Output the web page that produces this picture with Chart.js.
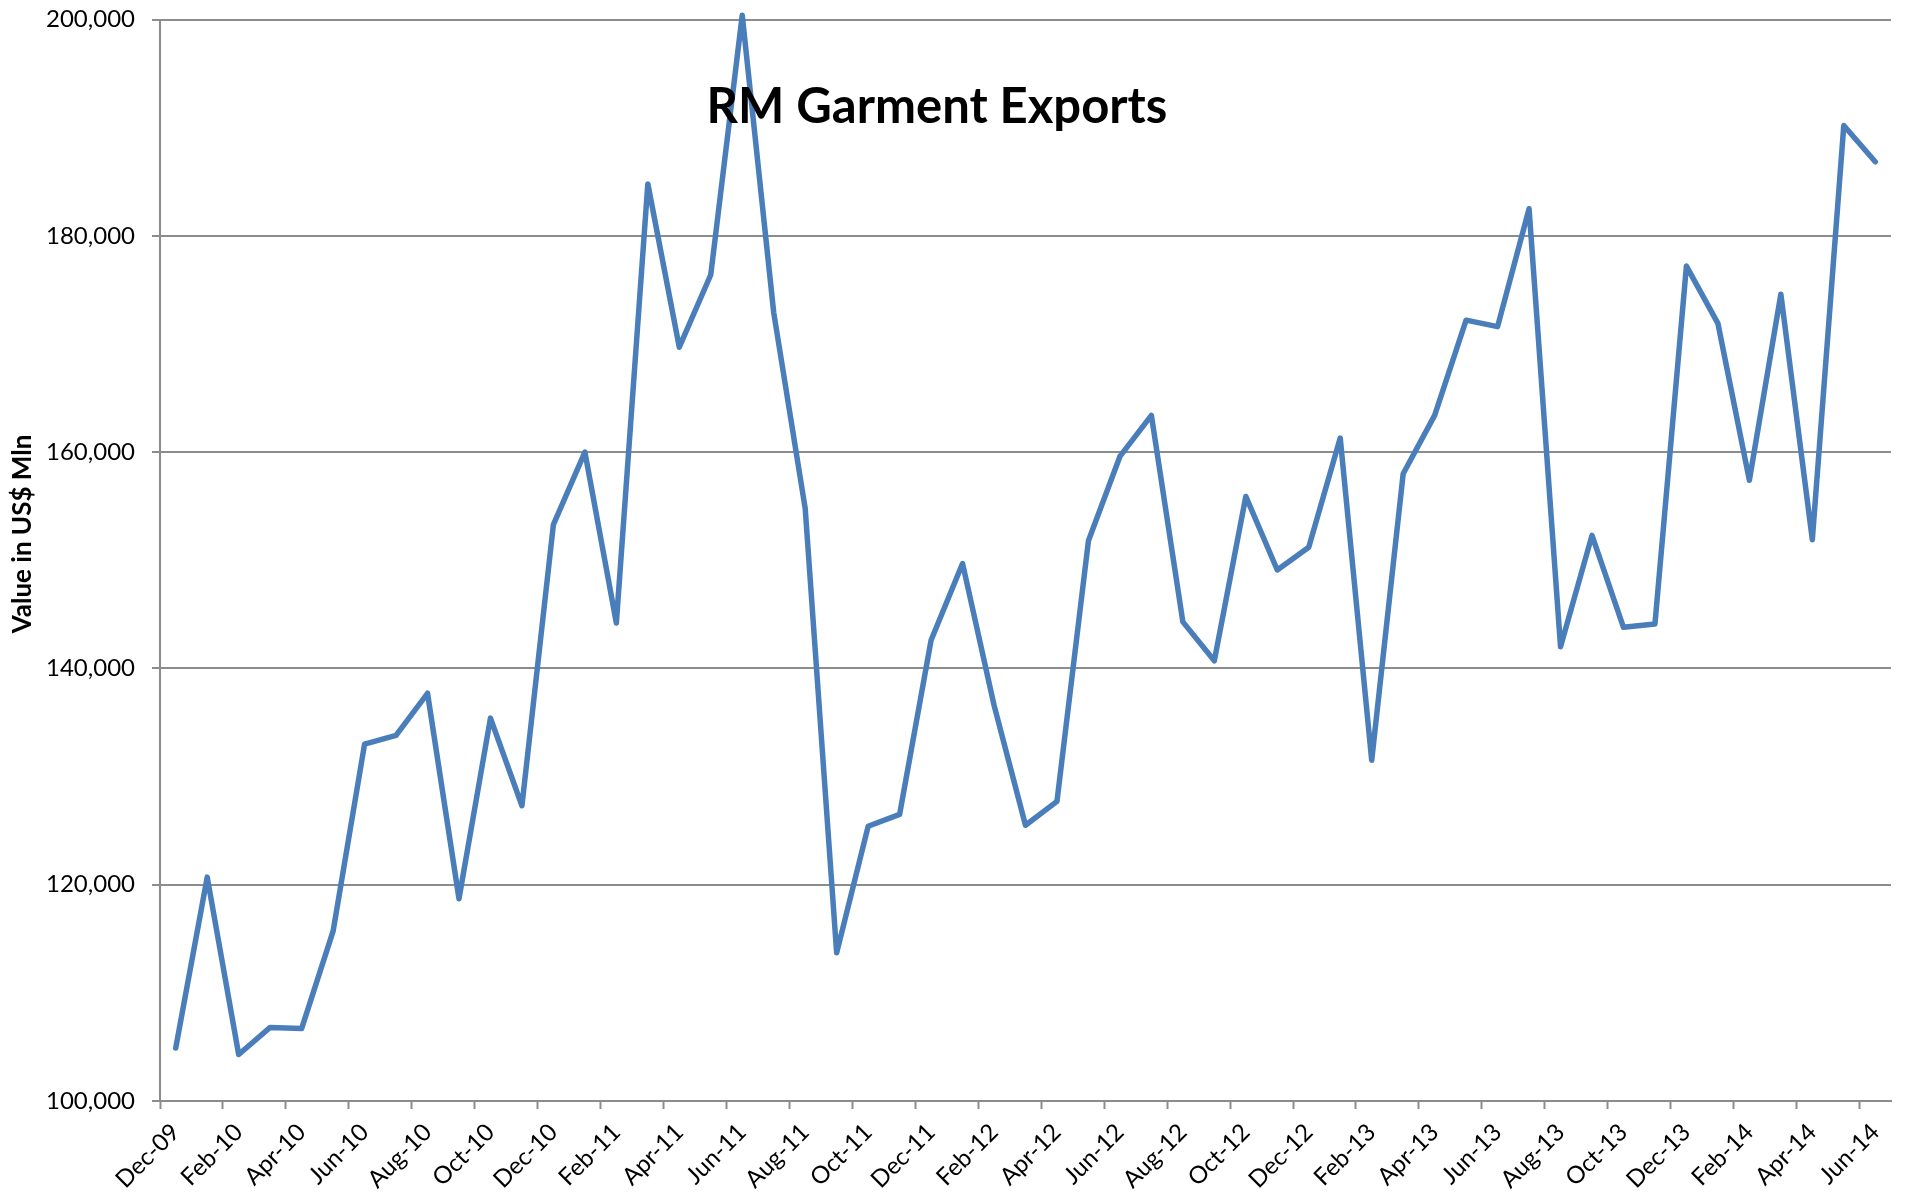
<!DOCTYPE html>
<html>
<head>
<meta charset="utf-8">
<title>RM Garment Exports</title>
<script src="https://cdn.jsdelivr.net/npm/chart.js@4.4.1/dist/chart.umd.min.js"></script>
<style>
  html, body { margin: 0; padding: 0; background: #fff; }
  #wrap { width: 1905px; height: 1197px; position: relative; }
</style>
</head>
<body>
<div id="wrap"><canvas id="exportsChart"></canvas></div>
<script>
// monthly categories, Dec-09 .. Jun-14
const months = [
  "Dec-09",
  "Jan-10", "Feb-10", "Mar-10", "Apr-10", "May-10", "Jun-10",
  "Jul-10", "Aug-10", "Sep-10", "Oct-10", "Nov-10", "Dec-10",
  "Jan-11", "Feb-11", "Mar-11", "Apr-11", "May-11", "Jun-11",
  "Jul-11", "Aug-11", "Sep-11", "Oct-11", "Nov-11", "Dec-11",
  "Jan-12", "Feb-12", "Mar-12", "Apr-12", "May-12", "Jun-12",
  "Jul-12", "Aug-12", "Sep-12", "Oct-12", "Nov-12", "Dec-12",
  "Jan-13", "Feb-13", "Mar-13", "Apr-13", "May-13", "Jun-13",
  "Jul-13", "Aug-13", "Sep-13", "Oct-13", "Nov-13", "Dec-13",
  "Jan-14", "Feb-14", "Mar-14", "Apr-14", "May-14", "Jun-14"
];

// value in US$ Mln
const exportValues = [
  104900,
  120700, 104300, 106800, 106700, 115700, 133000,
  133800, 137700, 118700, 135400, 127300, 153300,
  160000, 144200, 184800, 169700, 176400, 200400,
  172900, 154800, 113700, 125400, 126500, 142600,
  149700, 136600, 125500, 127700, 151800, 159600,
  163400, 144300, 140700, 155900, 149100, 151200,
  161300, 131500, 158000, 163400, 172200, 171600,
  182500, 142000, 152300, 143800, 144100, 177200,
  171900, 157400, 174600, 151900, 190200, 186850
];

const yTickValues = [100000, 120000, 140000, 160000, 180000, 200000];

const chartTitle = "RM Garment Exports";
const yAxisTitle = "Value in US$ Mln";

const GRID = "#8c8c8c";
const LINE = "#4A7EBB";

// title sits inside the plot area, y axis title drawn by hand too
const titlesPlugin = {
  id: "titles",
  afterDraw(chart) {
    const ctx = chart.ctx;
    ctx.save();
    ctx.fillStyle = "#000";
    ctx.font = "bold 49px Lato";
    ctx.textAlign = "center";
    ctx.textBaseline = "alphabetic";
    ctx.fillText(chartTitle, 937, 123);

    ctx.translate(23, 534);
    ctx.rotate(-Math.PI / 2);
    ctx.font = "bold 26px Lato";
    ctx.textBaseline = "middle";
    ctx.fillText(yAxisTitle, 0, 0);
    ctx.restore();
  }
};

const ctx = document.getElementById("exportsChart").getContext("2d");
new Chart(ctx, {
  type: "line",
  data: {
    labels: months,
    datasets: [{
      label: "RM Garment Exports",
      data: exportValues,
      borderColor: LINE,
      backgroundColor: LINE,
      borderWidth: 5.5,
      borderJoinStyle: "round",
      borderCapStyle: "round",
      pointRadius: 0,
      tension: 0,
      clip: false
    }]
  },
  options: {
    responsive: true,
    maintainAspectRatio: false,
    animation: false,
    layout: { padding: { top: 19.5, right: 14, left: 0, bottom: 0 } },
    plugins: {
      legend: { display: false },
      tooltip: { enabled: false }
    },
    scales: {
      x: {
        offset: true,
        afterFit: (scale) => {
          scale.height = 96;
          scale.paddingLeft = 0;
          scale.paddingRight = 0;
        },
        grid: {
          offset: true,
          drawOnChartArea: false,
          tickLength: 8,
          tickWidth: 2,
          tickColor: (c) => (c.index % 2 === 0 ? GRID : "rgba(0,0,0,0)")
        },
        border: { color: GRID, width: 2 },
        ticks: {
          autoSkip: false,
          minRotation: 45,
          maxRotation: 45,
          padding: 9,
          color: "#000",
          font: { family: "Lato", size: 24 },
          callback: (val, i) => (i % 2 === 0 ? months[i] : "")
        }
      },
      y: {
        min: yTickValues[0],
        max: yTickValues[yTickValues.length - 1],
        afterFit: (scale) => {
          scale.width = 160;
          scale.paddingTop = 0;
          scale.paddingBottom = 0;
        },
        afterBuildTicks: (scale) => {
          scale.ticks = yTickValues.map(v => ({ value: v }));
        },
        grid: {
          color: GRID,
          lineWidth: 2,
          tickLength: 8,
          tickWidth: 2,
          tickColor: GRID
        },
        border: { color: GRID, width: 2 },
        ticks: {
          padding: 17,
          color: "#000",
          font: { family: "Lato", size: 24 },
          callback: (v) => v.toLocaleString("en-US")
        }
      }
    }
  },
  plugins: [titlesPlugin]
});
</script>
</body>
</html>
